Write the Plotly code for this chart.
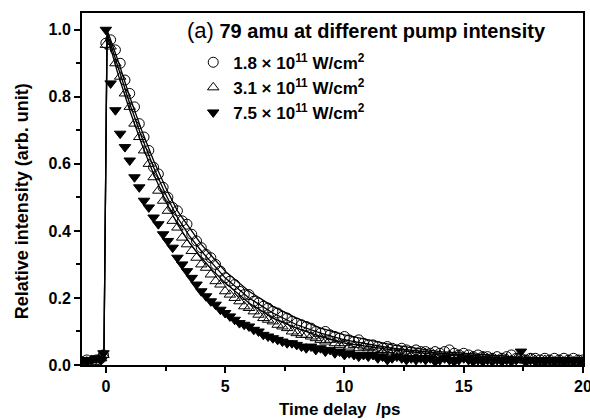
import plotly.graph_objects as go

# ---------------- data ----------------
time_ps = [-1.0, -0.8, -0.6, -0.4, -0.2, -0.1, 0.0,
           0.2, 0.4, 0.6, 0.8, 1.0, 1.2, 1.4, 1.6, 1.8, 2.0,
           2.2, 2.4, 2.6, 2.8, 3.0, 3.2, 3.4, 3.6, 3.8, 4.0,
           4.2, 4.4, 4.6, 4.8, 5.0, 5.2, 5.4, 5.6, 5.8, 6.0,
           6.2, 6.4, 6.6, 6.8, 7.0, 7.2, 7.4, 7.6, 7.8, 8.0,
           8.2, 8.4, 8.6, 8.8, 9.0, 9.2, 9.4, 9.6, 9.8, 10.0,
           10.2, 10.4, 10.6, 10.8, 11.0, 11.2, 11.4, 11.6, 11.8, 12.0,
           12.2, 12.4, 12.6, 12.8, 13.0, 13.2, 13.4, 13.6, 13.8, 14.0,
           14.2, 14.4, 14.6, 14.8, 15.0, 15.2, 15.4, 15.6, 15.8, 16.0,
           16.2, 16.4, 16.6, 16.8, 17.0, 17.2, 17.4, 17.6, 17.8, 18.0,
           18.2, 18.4, 18.6, 18.8, 19.0, 19.2, 19.4, 19.6, 19.8, 20.0]

int_18 = [0.010, 0.015, 0.010, 0.015, 0.020, 0.030, 0.960,
          0.970, 0.940, 0.900, 0.850, 0.810, 0.770, 0.720, 0.680, 0.640, 0.590,
          0.570, 0.530, 0.500, 0.470, 0.460, 0.430, 0.420, 0.390, 0.370, 0.350,
          0.330, 0.320, 0.300, 0.280, 0.260, 0.250, 0.240, 0.220, 0.210, 0.210,
          0.190, 0.185, 0.175, 0.170, 0.160, 0.155, 0.145, 0.140, 0.130, 0.125,
          0.120, 0.115, 0.110, 0.100, 0.095, 0.100, 0.090, 0.085, 0.080, 0.085,
          0.075, 0.070, 0.075, 0.065, 0.060, 0.060, 0.055, 0.050, 0.055, 0.050,
          0.045, 0.050, 0.045, 0.040, 0.045, 0.040, 0.040, 0.035, 0.040, 0.035,
          0.040, 0.045, 0.035, 0.030, 0.035, 0.030, 0.025, 0.030, 0.025, 0.025,
          0.020, 0.025, 0.020, 0.025, 0.030, 0.020, 0.020, 0.015, 0.020, 0.020,
          0.015, 0.020, 0.015, 0.020, 0.015, 0.020, 0.015, 0.020, 0.015, 0.015]

int_31 = [0.010, 0.010, 0.015, 0.010, 0.020, 0.030, 0.955,
          0.950, 0.900, 0.860, 0.810, 0.770, 0.720, 0.680, 0.640, 0.600, 0.560,
          0.520, 0.490, 0.460, 0.430, 0.410, 0.380, 0.360, 0.340, 0.320, 0.300,
          0.290, 0.270, 0.250, 0.240, 0.220, 0.210, 0.200, 0.190, 0.175, 0.170,
          0.160, 0.150, 0.140, 0.135, 0.130, 0.120, 0.115, 0.110, 0.100, 0.095,
          0.090, 0.090, 0.085, 0.080, 0.075, 0.070, 0.075, 0.065, 0.060, 0.065,
          0.055, 0.060, 0.050, 0.055, 0.050, 0.045, 0.045, 0.040, 0.045, 0.040,
          0.035, 0.040, 0.035, 0.030, 0.035, 0.030, 0.035, 0.030, 0.025, 0.030,
          0.025, 0.030, 0.025, 0.030, 0.025, 0.020, 0.025, 0.020, 0.025, 0.020,
          0.020, 0.015, 0.020, 0.020, 0.015, 0.020, 0.015, 0.015, 0.020, 0.015,
          0.010, 0.015, 0.015, 0.010, 0.015, 0.010, 0.015, 0.010, 0.015, 0.010]

int_75 = [0.015, 0.010, 0.015, 0.020, 0.015, 0.035, 1.000,
          0.840, 0.760, 0.690, 0.650, 0.610, 0.560, 0.530, 0.490, 0.470, 0.440,
          0.420, 0.390, 0.370, 0.350, 0.320, 0.300, 0.280, 0.260, 0.240, 0.220,
          0.205, 0.190, 0.180, 0.165, 0.155, 0.145, 0.135, 0.125, 0.120, 0.115,
          0.105, 0.100, 0.090, 0.085, 0.080, 0.075, 0.070, 0.065, 0.065, 0.060,
          0.055, 0.050, 0.055, 0.045, 0.050, 0.040, 0.045, 0.035, 0.040, 0.030,
          0.035, 0.030, 0.025, 0.030, 0.025, 0.030, 0.020, 0.025, 0.015, 0.020,
          0.025, 0.020, 0.015, 0.020, 0.015, 0.020, 0.015, 0.020, 0.010, 0.015,
          0.020, 0.015, 0.010, 0.015, 0.020, 0.015, 0.010, 0.015, 0.010, 0.015,
          0.010, 0.015, 0.010, 0.015, 0.010, 0.015, 0.040, 0.010, 0.015, 0.010,
          0.015, 0.010, 0.015, 0.010, 0.015, 0.010, 0.015, 0.010, 0.015, 0.010]

# fitted curves
fit_time = [-1.0, -0.1, -0.08, 0.05, 0.1, 0.5, 1.0, 1.5, 2.0, 2.5, 3.0, 3.5,
            4.0, 4.5, 5.0, 6.0, 7.0, 8.0, 9.0, 10.0, 12.0, 14.0, 17.0, 20.0]
fit_18 = [0.012, 0.015, 0.030, 1.000, 0.990, 0.910, 0.800, 0.700, 0.610, 0.530, 0.460, 0.410,
          0.360, 0.320, 0.280, 0.220, 0.175, 0.140, 0.110, 0.090, 0.060, 0.040, 0.025, 0.015]
fit_31 = [0.012, 0.015, 0.030, 0.990, 0.980, 0.890, 0.780, 0.680, 0.590, 0.510, 0.440, 0.385,
          0.340, 0.300, 0.260, 0.200, 0.155, 0.120, 0.095, 0.075, 0.050, 0.035, 0.020, 0.012]
fit_75 = [0.012, 0.015, 0.030, 0.980, 0.970, 0.870, 0.760, 0.660, 0.570, 0.490, 0.420, 0.365,
          0.320, 0.280, 0.245, 0.185, 0.140, 0.110, 0.085, 0.065, 0.045, 0.030, 0.018, 0.010]

labels = ["<b>1.8 × 10<sup>11</sup> W/cm<sup>2</sup></b>",
          "<b>3.1 × 10<sup>11</sup> W/cm<sup>2</sup></b>",
          "<b>7.5 × 10<sup>11</sup> W/cm<sup>2</sup></b>"]
title_text = "<span style='font-size:22px'>(a)</span> <b>79 amu at different pump intensity</b>"
x_title = "<b>Time delay  /ps</b>"
y_title = "<b>Relative intensity (arb. unit)</b>"

# ---------------- figure ----------------
FONT = "Liberation Sans, Arial, sans-serif"
fig = go.Figure()

fig.add_trace(go.Scatter(x=time_ps, y=int_75, mode="markers", name=labels[2],
                         marker=dict(symbol="triangle-down", size=10, color="black",
                                     line=dict(color="black", width=1))))
fig.add_trace(go.Scatter(x=time_ps, y=int_31, mode="markers", name=labels[1],
                         marker=dict(symbol="triangle-up-open", size=10, color="black",
                                     line=dict(color="black", width=1))))
fig.add_trace(go.Scatter(x=time_ps, y=int_18, mode="markers", name=labels[0],
                         marker=dict(symbol="circle-open", size=10, color="black",
                                     line=dict(color="black", width=1))))

for fy in (fit_18, fit_31, fit_75):
    fig.add_trace(go.Scatter(x=fit_time, y=fy, mode="lines", showlegend=False,
                             line=dict(color="black", width=1.3)))

axis_common = dict(showline=True, linecolor="black", linewidth=2, mirror=True,
                   ticks="outside", ticklen=6, tickwidth=1.5, tickcolor="black",
                   showgrid=False, zeroline=False, automargin=False,
                   ticklabeloverflow="allow",
                   tickfont=dict(family=FONT, size=16, color="black", weight="bold"))

fig.update_xaxes(range=[-1, 20], dtick=5, tick0=0,
                 minor=dict(dtick=2.5, tick0=0, ticks="outside", ticklen=4, tickcolor="black"),
                 tickformat="d", **axis_common)
fig.update_yaxes(range=[0, 1.05], dtick=0.2, tick0=0, tickformat=".1f",
                 minor=dict(dtick=0.1, tick0=0, ticks="outside", ticklen=4, tickcolor="black"),
                 **axis_common)

# axis titles
fig.add_annotation(xref="paper", yref="paper", x=0.515, y=-0.125, xanchor="center",
                   yanchor="middle", text=x_title, showarrow=False,
                   font=dict(family=FONT, size=17, color="black"))
fig.add_annotation(xref="paper", yref="paper", x=-0.12, y=0.465, xanchor="center",
                   yanchor="middle", text=y_title, showarrow=False, textangle=-90,
                   font=dict(family=FONT, size=18, color="black"))

fig.add_annotation(xref="paper", yref="paper", x=0.2056, y=0.95, xanchor="left",
                   yanchor="middle", text=title_text, showarrow=False,
                   font=dict(family=FONT, size=20, color="black"))

fig.update_layout(
    width=590, height=420,
    margin=dict(l=82, r=7, t=13, b=55),
    paper_bgcolor="white", plot_bgcolor="white",
    font=dict(family=FONT, color="black"),
    legend=dict(x=0.222, y=0.91, xanchor="left", yanchor="top",
                traceorder="reversed", bgcolor="rgba(0,0,0,0)",
                font=dict(family=FONT, size=17, color="black"),
                tracegroupgap=0, itemwidth=30),
)

fig.write_html("out.html", config={"displayModeBar": False},
               post_script="document.body.style.margin='0';document.body.style.overflow='hidden';")
